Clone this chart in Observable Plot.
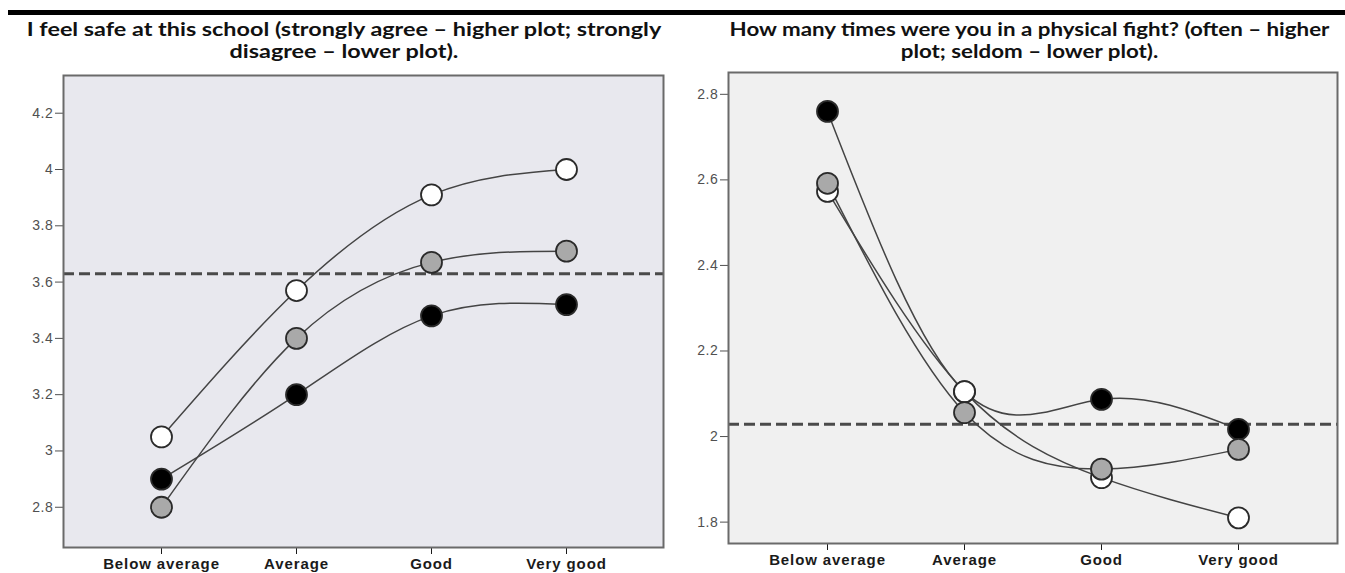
<!DOCTYPE html>
<html>
<head>
<meta charset="utf-8">
<script src="https://cdn.jsdelivr.net/npm/d3@7"></script>
<script src="https://cdn.jsdelivr.net/npm/@observablehq/plot@0.6"></script>
<style>
  html, body { margin: 0; padding: 0; background: #fff; }
  #wrap { position: relative; width: 1345px; height: 573px; overflow: hidden; background: #fff; }
  .topbar { position: absolute; left: 8px; top: 10px; width: 1337px; height: 5px; background: #000; }
  .title { position: absolute; top: 18px; font-family: Lato, "Open Sans", sans-serif; font-weight: 700; font-size: 19px; line-height: 22px; color: #111; text-align: center; white-space: nowrap; transform-origin: center top; }
  #t1 { left: 4px; width: 680px; transform: scaleX(1.23); }
  #t2 { left: 693px; width: 673px; transform: scaleX(1.175); }
  .panel { position: absolute; top: 60px; }
  #p1 { left: 0px; }
  #p2 { left: 672px; }
</style>
</head>
<body>
<div id="wrap">
  <div class="topbar"></div>
  <div class="title" id="t1">I feel safe at this school (strongly agree – higher plot; strongly<br>disagree – lower plot).</div>
  <div class="title" id="t2">How many times were you in a physical fight? (often – higher<br>plot; seldom – lower plot).</div>
  <div class="panel" id="p1"></div>
  <div class="panel" id="p2"></div>
</div>
<script>
// ---- data ----
const categories = ["Below average", "Average", "Good", "Very good"];

const safeBlack = [2.90, 3.20, 3.48, 3.52];
const safeWhite = [3.05, 3.57, 3.91, 4.00];
const safeGray  = [2.80, 3.40, 3.67, 3.71];
const safeMean = 3.63;
const safeTicks = [2.8, 3, 3.2, 3.4, 3.6, 3.8, 4, 4.2];

const fightBlack = [2.76, 2.105, 2.087, 2.017];
const fightWhite = [2.573, 2.105, 1.904, 1.81];
const fightGray  = [2.592, 2.056, 1.924, 1.97];
const fightMean = 2.029;
const fightTicks = [1.8, 2, 2.2, 2.4, 2.6, 2.8];

// ---- styling (draw order: black, white, gray) ----
const fillColors = ["#000000", "#ffffff", "#a9a9a9"];

function toRows(arr) {
  return arr.map((v, i) => ({cat: categories[i], value: v}));
}

function panel(opts) {
  const seriesRows = opts.series.map(toRows);
  const svg = Plot.plot({
    width: opts.width,
    height: 513,
    marginLeft: opts.ml, marginRight: opts.mr, marginTop: opts.mt, marginBottom: opts.mb,
    x: {type: "point", domain: categories, padding: 0.72, label: null},
    y: {domain: opts.ydomain, label: null},
    style: {background: "transparent", fontFamily: "'Liberation Sans', Arial, sans-serif", overflow: "visible"},
    marks: [
      Plot.frame({fill: opts.bg, stroke: "none"}),
      Plot.axisY({ticks: opts.ticks, tickFormat: d3.format("~g"), tickSize: 8, tickPadding: 2, fontSize: 14, color: "#505050", label: null}),
      Plot.axisX({tickSize: 7, tickPadding: 4, fontSize: 15, fontWeight: "bold", color: "#1a1a1a", label: null}),
      Plot.ruleY([opts.mean], {stroke: "#4a4a4a", strokeWidth: 3, strokeDasharray: "11,5"}),
      ...seriesRows.map(rows => Plot.line(rows, {x: "cat", y: "value", curve: "natural", stroke: "#444", strokeWidth: 1.5})),
      ...seriesRows.map((rows, si) => Plot.dot(rows, {x: "cat", y: "value", fill: fillColors[si], stroke: "#2a2a2a", strokeWidth: 1.8, r: 10.5})),
      Plot.frame({stroke: "#6a6a6a", strokeWidth: 2})
    ]
  });
  svg.querySelectorAll('g[aria-label="x-axis tick label"] text').forEach(t => t.setAttribute("letter-spacing", "0.9px"));
  svg.querySelectorAll('g[aria-label="y-axis tick label"] text').forEach(t => t.setAttribute("letter-spacing", "0.6px"));
  return svg;
}

document.getElementById("p1").append(panel({
  width: 672, ml: 63, mr: 9, mt: 15, mb: 26,
  ydomain: [2.657, 4.334], ticks: safeTicks, mean: safeMean, bg: "#e8e8ee",
  series: [safeBlack, safeWhite, safeGray]
}));
document.getElementById("p2").append(panel({
  width: 673, ml: 56, mr: 8, mt: 12, mb: 30,
  ydomain: [1.75, 2.851], ticks: fightTicks, mean: fightMean, bg: "#f0f0f0",
  series: [fightBlack, fightWhite, fightGray]
}));
</script>
</body>
</html>
